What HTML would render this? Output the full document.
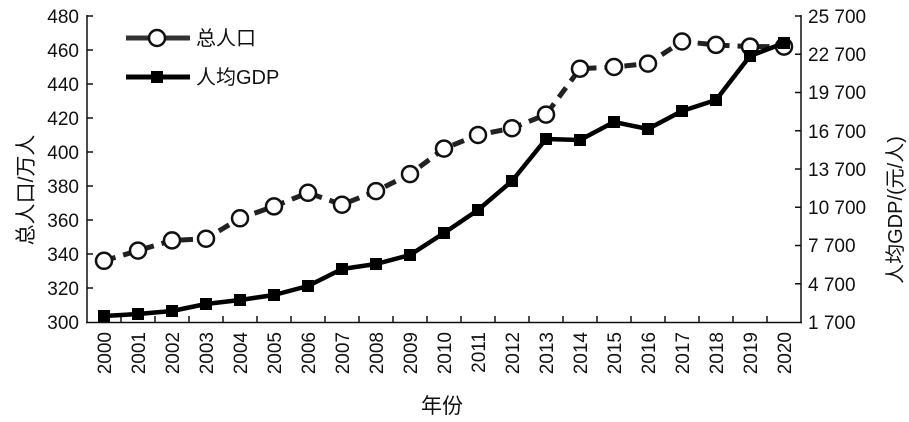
<!DOCTYPE html>
<html><head><meta charset="utf-8"><style>
body{margin:0;background:#fff;width:909px;height:417px;overflow:hidden}
text{font-family:"Liberation Sans","Noto Sans CJK SC",sans-serif;fill:#111}
</style></head><body>
<svg width="909" height="417" viewBox="0 0 909 417" xmlns="http://www.w3.org/2000/svg">
<g stroke="#111" stroke-width="1.5" fill="none">
<line x1="87" y1="15" x2="87" y2="323"/>
<line x1="801" y1="15" x2="801" y2="323"/>
<line x1="86" y1="322.5" x2="802" y2="322.5"/>
<path d="M87 16h6M87 50h6M87 84h6M87 118h6M87 152h6M87 186h6M87 220h6M87 254h6M87 288h6"/>
<path d="M801 16h-6M801 54.3h-6M801 92.5h-6M801 130.8h-6M801 169h-6M801 207.3h-6M801 245.5h-6M801 283.8h-6"/>
<path d="M121 322v-6M155 322v-6M189 322v-6M223 322v-6M257 322v-6M291 322v-6M325 322v-6M359 322v-6M393 322v-6M427 322v-6M461 322v-6M495 322v-6M529 322v-6M563 322v-6M597 322v-6M631 322v-6M665 322v-6M699 322v-6M733 322v-6M767 322v-6"/>
</g>
<g font-size="19" text-anchor="end">
<text x="79" y="23">480</text><text x="79" y="57">460</text><text x="79" y="91">440</text><text x="79" y="125">420</text><text x="79" y="159">400</text><text x="79" y="193">380</text><text x="79" y="227">360</text><text x="79" y="261">340</text><text x="79" y="295">320</text><text x="79" y="329">300</text>
</g>
<g font-size="19" style="font-family:'Liberation Serif',serif">
<text x="808" y="23">25 700</text><text x="808" y="61">22 700</text><text x="808" y="99">19 700</text><text x="808" y="138">16 700</text><text x="808" y="176">13 700</text><text x="808" y="214">10 700</text><text x="808" y="252">7 700</text><text x="808" y="291">4 700</text><text x="808" y="329">1 700</text>
</g>
<g font-size="19" text-anchor="end">
<text transform="translate(111,332) rotate(-90)">2000</text><text transform="translate(145,332) rotate(-90)">2001</text><text transform="translate(179,332) rotate(-90)">2002</text><text transform="translate(213,332) rotate(-90)">2003</text><text transform="translate(247,332) rotate(-90)">2004</text><text transform="translate(281,332) rotate(-90)">2005</text><text transform="translate(315,332) rotate(-90)">2006</text><text transform="translate(349,332) rotate(-90)">2007</text><text transform="translate(383,332) rotate(-90)">2008</text><text transform="translate(417,332) rotate(-90)">2009</text><text transform="translate(451,332) rotate(-90)">2010</text><text transform="translate(485,332) rotate(-90)">2011</text><text transform="translate(519,332) rotate(-90)">2012</text><text transform="translate(553,332) rotate(-90)">2013</text><text transform="translate(587,332) rotate(-90)">2014</text><text transform="translate(621,332) rotate(-90)">2015</text><text transform="translate(655,332) rotate(-90)">2016</text><text transform="translate(689,332) rotate(-90)">2017</text><text transform="translate(723,332) rotate(-90)">2018</text><text transform="translate(757,332) rotate(-90)">2019</text><text transform="translate(791,332) rotate(-90)">2020</text>
</g>
<text x="442" y="413" font-size="21" text-anchor="middle">年份</text>
<text transform="translate(33,190) rotate(-90)" font-size="21" text-anchor="middle">总人口/万人</text>
<text transform="translate(902,210) rotate(-90)" font-size="20" text-anchor="middle">人均GDP/(元/人)</text>
<polyline fill="none" stroke="#222" stroke-width="5" stroke-dasharray="12,8" points="104,260.8 138,250.6 172,240.4 206,238.7 240,218.3 274,206.4 308,192.8 342,204.7 376,191.1 410,174.1 444,148.6 478,135 512,128.2 546,114.6 580,68.7 614,67 648,63.6 682,41.5 716,44.9 750,46.6 784,46.6"/>
<g fill="#fff" stroke="#111" stroke-width="2.5">
<circle cx="104" cy="260.8" r="8"/><circle cx="138" cy="250.6" r="8"/><circle cx="172" cy="240.4" r="8"/><circle cx="206" cy="238.7" r="8"/><circle cx="240" cy="218.3" r="8"/><circle cx="274" cy="206.4" r="8"/><circle cx="308" cy="192.8" r="8"/><circle cx="342" cy="204.7" r="8"/><circle cx="376" cy="191.1" r="8"/><circle cx="410" cy="174.1" r="8"/><circle cx="444" cy="148.6" r="8"/><circle cx="478" cy="135" r="8"/><circle cx="512" cy="128.2" r="8"/><circle cx="546" cy="114.6" r="8"/><circle cx="580" cy="68.7" r="8"/><circle cx="614" cy="67" r="8"/><circle cx="648" cy="63.6" r="8"/><circle cx="682" cy="41.5" r="8"/><circle cx="716" cy="44.9" r="8"/><circle cx="750" cy="46.6" r="8"/><circle cx="784" cy="46.6" r="8"/>
</g>
<polyline fill="none" stroke="#000" stroke-width="4.5" stroke-linejoin="round" points="104,316 138,314 172,311 206,304 240,300 274,295 308,286 342,269 376,264 410,255 444,233 478,210 512,181 546,139 580,140 614,122 648,129 682,111 716,100 750,56 784,43"/>
<g fill="#000">
<rect x="98" y="310" width="12" height="12"/><rect x="132" y="308" width="12" height="12"/><rect x="166" y="305" width="12" height="12"/><rect x="200" y="298" width="12" height="12"/><rect x="234" y="294" width="12" height="12"/><rect x="268" y="289" width="12" height="12"/><rect x="302" y="280" width="12" height="12"/><rect x="336" y="263" width="12" height="12"/><rect x="370" y="258" width="12" height="12"/><rect x="404" y="249" width="12" height="12"/><rect x="438" y="227" width="12" height="12"/><rect x="472" y="204" width="12" height="12"/><rect x="506" y="175" width="12" height="12"/><rect x="540" y="133" width="12" height="12"/><rect x="574" y="134" width="12" height="12"/><rect x="608" y="116" width="12" height="12"/><rect x="642" y="123" width="12" height="12"/><rect x="676" y="105" width="12" height="12"/><rect x="710" y="94" width="12" height="12"/><rect x="744" y="50" width="12" height="12"/><rect x="778" y="37" width="12" height="12"/>
</g>
<line x1="126" y1="38" x2="190" y2="38" stroke="#333" stroke-width="5"/>
<circle cx="157" cy="38" r="8" fill="#fff" stroke="#111" stroke-width="2.5"/>
<text x="196" y="45" font-size="20">总人口</text>
<line x1="126" y1="77" x2="190" y2="77" stroke="#000" stroke-width="5"/>
<rect x="151" y="71" width="12" height="12" fill="#000"/>
<text x="196" y="84" font-size="20">人均GDP</text>
</svg>
</body></html>
